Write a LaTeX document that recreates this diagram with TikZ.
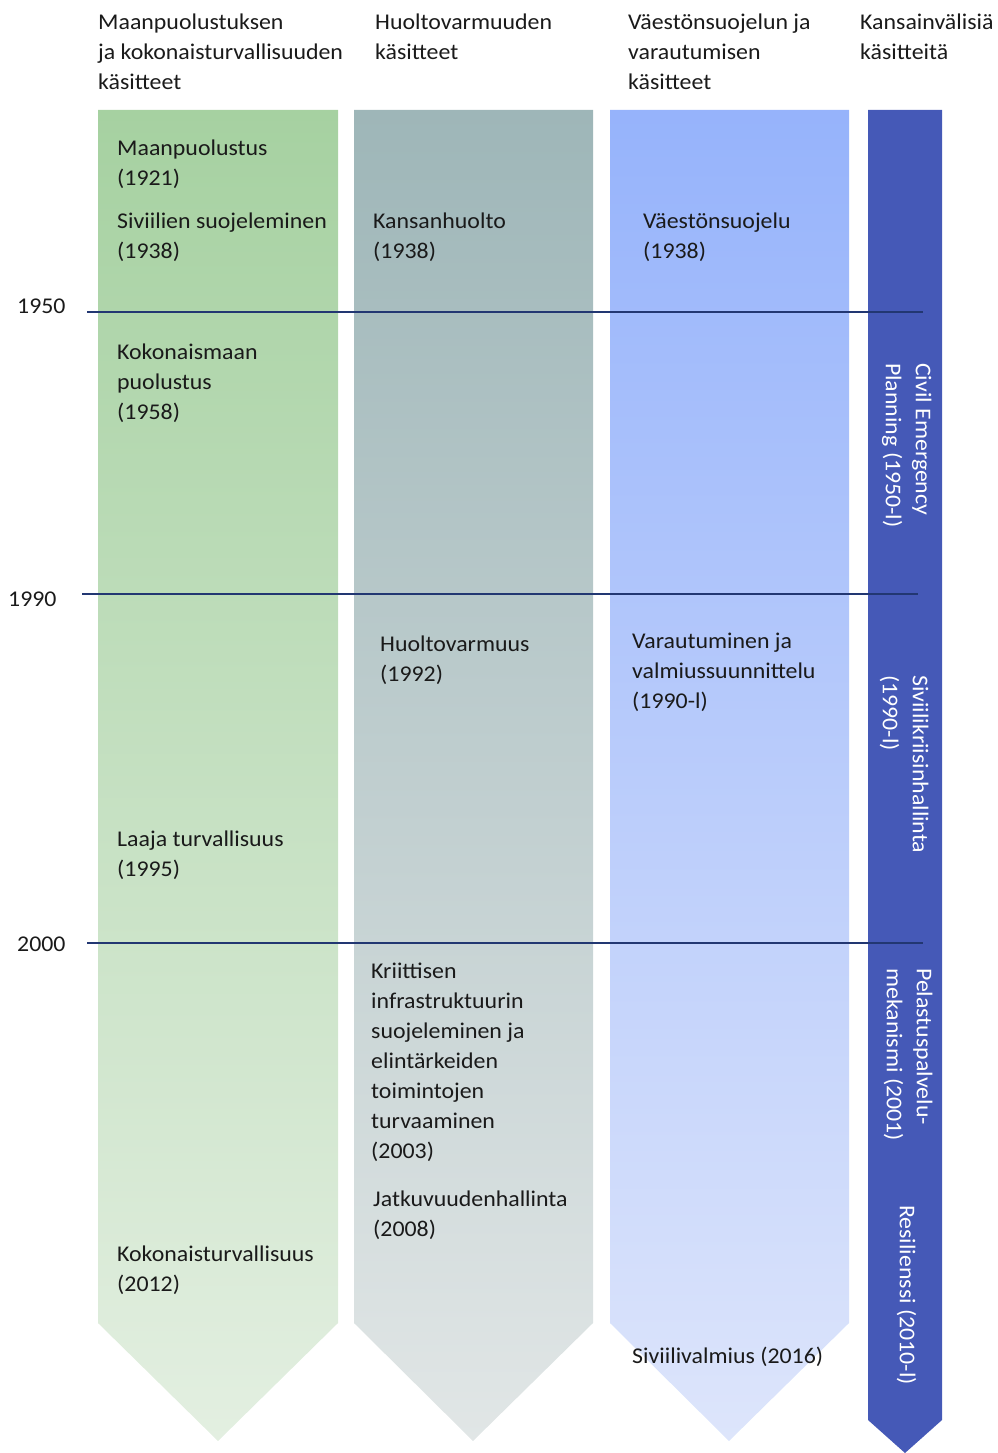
\documentclass[tikz,border=0pt]{standalone}
\usepackage{fontspec}
\setmainfont[FakeStretch=1.06]{Carlito}
\definecolor{gA}{HTML}{A6D1A1}
\definecolor{gB}{HTML}{E3EFE1}
\definecolor{sA}{HTML}{9EB6B8}
\definecolor{sB}{HTML}{E1E6E6}
\definecolor{bA}{HTML}{96B3FB}
\definecolor{bB}{HTML}{DDE5FB}
\definecolor{dB}{HTML}{4559B7}
\definecolor{navy}{HTML}{223772}
\definecolor{ink}{HTML}{1A1A1A}
\tikzset{
  txt/.style={anchor=north west, inner sep=0pt, align=left, text=ink,
    font=\fontsize{22.5}{30}\selectfont},
  rtxt/.style={anchor=north west, inner sep=0pt, align=left, text=white, rotate=-90,
    font=\fontsize{22.5}{30}\selectfont},
  year/.style={anchor=base west, inner sep=0pt, text=ink, font=\fontsize{22.5}{30}\selectfont},
  yline/.style={draw=navy, line width=1.6pt}
}
\begin{document}
\begin{tikzpicture}[x=1pt,y=-1pt]
\useasboundingbox (0,0) rectangle (998,1453);
% columns
\shade[top color=gA, bottom color=gB] (98,110) -- (338,110) -- (338,1323) -- (218,1441) -- (98,1323) -- cycle;
\shade[top color=sA, bottom color=sB] (354,110) -- (593,110) -- (593,1323) -- (473,1441) -- (354,1323) -- cycle;
\shade[top color=bA, bottom color=bB] (610,110) -- (849,110) -- (849,1323) -- (729,1441) -- (610,1323) -- cycle;
\fill[dB] (868,110) -- (942,110) -- (942,1420) -- (905,1453) -- (868,1420) -- cycle;
% headers
\node[txt] (h1) at (98,8) {\strut Maanpuolustuksen\\ja kokonaisturvallisuuden\\käsitteet};
\node[txt] (h2) at (375,8) {\strut Huoltovarmuuden\\käsitteet};
\node[txt] (h3) at (628,8) {\strut Väestönsuojelun ja\\varautumisen\\käsitteet};
\node[txt] (h4) at (860,8) {\strut Kansainvälisiä\\käsitteitä};
% year lines
\node[year] (y1950) at (17,313) {1950};
\node[year] (y1990) at (8,606) {1990};
\node[year] (y2000) at (17,951) {2000};
\coordinate (e1950) at (923,312);
\coordinate (e1990) at (918,594);
\coordinate (e2000) at (923,943);
\coordinate (s1950) at (87,312);
\coordinate (s1990) at (82,594);
\coordinate (s2000) at (87,943);
\draw[yline] (s1950) -- (e1950);
\draw[yline] (s1990) -- (e1990);
\draw[yline] (s2000) -- (e2000);
% column 1
\node[txt] (c11) at (117,134) {\strut Maanpuolustus\\(1921)};
\node[txt] (c12) at (117,207) {\strut Siviilien suojeleminen\\(1938)};
\node[txt] (c13) at (117,338) {\strut Kokonaismaan\\puolustus\\(1958)};
\node[txt] (c14) at (117,825) {\strut Laaja turvallisuus\\(1995)};
\node[txt] (c15) at (117,1240) {\strut Kokonaisturvallisuus\\(2012)};
% column 2
\node[txt] (c21) at (373,207) {\strut Kansanhuolto\\(1938)};
\node[txt] (c22) at (380,630) {\strut Huoltovarmuus\\(1992)};
\node[txt] (c23) at (371,957) {\strut Kriittisen\\infrastruktuurin\\suojeleminen ja\\elintärkeiden\\toimintojen\\turvaaminen\\(2003)};
\node[txt] (c24) at (373,1185) {\strut Jatkuvuudenhallinta\\(2008)};
% column 3
\node[txt] (c31) at (643,207) {\strut Väestönsuojelu\\(1938)};
\node[txt] (c32) at (632,627) {\strut Varautuminen ja\\valmiussuunnittelu\\(1990-l)};
\node[txt] (c33) at (632,1342) {\strut Siviilivalmius (2016)};
% column 4
\node[rtxt] (c41) at (937,363) {\strut Civil Emergency\\Planning (1950-l)};
\node[rtxt] (c42) at (934,675) {\strut Siviilikriisinhallinta\\(1990-l)};
\node[rtxt] (c43) at (938,968) {\strut Pelastuspalvelu-\\mekanismi (2001)};
\node[rtxt] (c44) at (921,1205) {\strut Resilienssi (2010-l)};
\end{tikzpicture}
\end{document}
